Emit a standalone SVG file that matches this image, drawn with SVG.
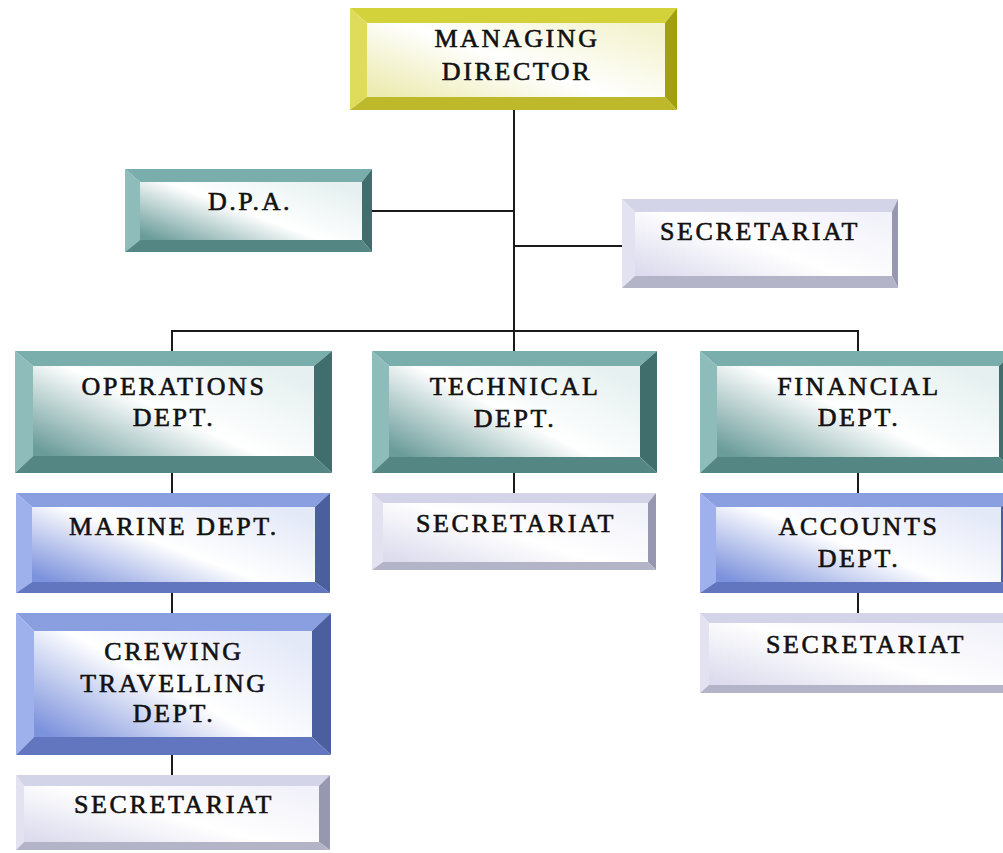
<svg xmlns="http://www.w3.org/2000/svg" width="1003" height="853" viewBox="0 0 1003 853">
  <defs>
    <linearGradient id="gTeal" x1="0" y1="0.9" x2="1" y2="0.2">
      <stop offset="0" stop-color="#6a9c9a"/>
      <stop offset="0.5" stop-color="#ffffff"/>
      <stop offset="1" stop-color="#e6f0f0"/>
    </linearGradient>
    <linearGradient id="gBlue" x1="0" y1="0.9" x2="1" y2="0.2">
      <stop offset="0" stop-color="#7c92dc"/>
      <stop offset="0.5" stop-color="#ffffff"/>
      <stop offset="1" stop-color="#e4e9f8"/>
    </linearGradient>
    <linearGradient id="gLav" x1="0" y1="0.9" x2="1" y2="0.2">
      <stop offset="0" stop-color="#dcdcee"/>
      <stop offset="0.5" stop-color="#ffffff"/>
      <stop offset="1" stop-color="#f2f2fa"/>
    </linearGradient>
    <linearGradient id="gYel" x1="0" y1="0.9" x2="1" y2="0.2">
      <stop offset="0" stop-color="#ecebb0"/>
      <stop offset="0.5" stop-color="#ffffff"/>
      <stop offset="1" stop-color="#f4f3d0"/>
    </linearGradient>
  </defs>
  <style>
    .teal .t { fill: #7aaead; } .teal .l { fill: #8dbcba; } .teal .r { fill: #3f6e6c; } .teal .b { fill: #548684; } .teal .f { fill: url(#gTeal); }
    .blue .t { fill: #8a9fe0; } .blue .l { fill: #9fb1ec; } .blue .r { fill: #4b5f9e; } .blue .b { fill: #6275bf; } .blue .f { fill: url(#gBlue); }
    .lav .t { fill: #d4d4e8; } .lav .l { fill: #e2e2f0; } .lav .r { fill: #9797b0; } .lav .b { fill: #b4b4c8; } .lav .f { fill: url(#gLav); }
    .yel .t { fill: #d4d23a; } .yel .l { fill: #dedc5a; } .yel .r { fill: #a3a010; } .yel .b { fill: #bdb92a; } .yel .f { fill: url(#gYel); }
    text { font-family: "Liberation Serif", "Times New Roman", serif; font-size: 26px; letter-spacing: 2.6px; fill: #111; stroke: #111; stroke-width: 0.6; text-anchor: middle; }
    .conn line { stroke: #1a1a1a; stroke-width: 2; }
  </style>

  <rect width="1003" height="853" fill="#ffffff"/>

  <!-- connectors -->
  <g id="connectors" class="conn">
    <line x1="514" y1="110" x2="514" y2="351"/>
    <line x1="372" y1="211" x2="514" y2="211"/>
    <line x1="514" y1="246" x2="622" y2="246"/>
    <line x1="171" y1="331" x2="859" y2="331"/>
    <line x1="172" y1="331" x2="172" y2="351"/>
    <line x1="858" y1="331" x2="858" y2="351"/>
    <line x1="172" y1="473" x2="172" y2="493"/>
    <line x1="172" y1="593" x2="172" y2="613"/>
    <line x1="172" y1="755" x2="172" y2="775"/>
    <line x1="514" y1="473" x2="514" y2="493"/>
    <line x1="858" y1="473" x2="858" y2="493"/>
    <line x1="858" y1="593" x2="858" y2="613"/>
  </g>

  <!-- managing director -->
  <g id="managing-director" class="yel">
    <polygon class="t" points="350,8 677,8 665,23 367,23"/>
    <polygon class="l" points="350,8 367,23 367,97 350,110"/>
    <polygon class="r" points="677,8 677,110 665,97 665,23"/>
    <polygon class="b" points="350,110 367,97 665,97 677,110"/>
    <rect class="f" x="367" y="23" width="298" height="74"/>
    <text x="517" y="47">MANAGING</text>
    <text x="517" y="80">DIRECTOR</text>
  </g>

  <!-- D.P.A. -->
  <g id="dpa" class="teal">
    <polygon class="t" points="125,169 372,169 362,182 140,182"/>
    <polygon class="l" points="125,169 140,182 140,240 125,252"/>
    <polygon class="r" points="372,169 372,252 362,240 362,182"/>
    <polygon class="b" points="125,252 140,240 362,240 372,252"/>
    <rect class="f" x="140" y="182" width="222" height="58"/>
    <text x="250" y="210">D.P.A.</text>
  </g>

  <!-- secretariat under managing director -->
  <g id="secretariat-md" class="lav">
    <polygon class="t" points="622,199 898,199 892,212 635,212"/>
    <polygon class="l" points="622,199 635,212 635,276 622,288"/>
    <polygon class="r" points="898,199 898,288 892,276 892,212"/>
    <polygon class="b" points="622,288 635,276 892,276 898,288"/>
    <rect class="f" x="635" y="212" width="257" height="64"/>
    <text x="760" y="240">SECRETARIAT</text>
  </g>

  <!-- operations -->
  <g id="operations" class="teal">
    <polygon class="t" points="15,351 332,351 314,366 33,366"/>
    <polygon class="l" points="15,351 33,366 33,456 15,473"/>
    <polygon class="r" points="332,351 332,473 314,456 314,366"/>
    <polygon class="b" points="15,473 33,456 314,456 332,473"/>
    <rect class="f" x="33" y="366" width="281" height="90"/>
    <text x="174" y="395">OPERATIONS</text>
    <text x="174" y="426">DEPT.</text>
  </g>

  <!-- technical -->
  <g id="technical" class="teal">
    <polygon class="t" points="372,351 657,351 640,366 389,366"/>
    <polygon class="l" points="372,351 389,366 389,457 372,473"/>
    <polygon class="r" points="657,351 657,473 640,457 640,366"/>
    <polygon class="b" points="372,473 389,457 640,457 657,473"/>
    <rect class="f" x="389" y="366" width="251" height="91"/>
    <text x="515" y="395">TECHNICAL</text>
    <text x="515" y="427">DEPT.</text>
  </g>

  <!-- financial -->
  <g id="financial" class="teal">
    <polygon class="t" points="700,351 1016,351 999,366 717,366"/>
    <polygon class="l" points="700,351 717,366 717,457 700,473"/>
    <polygon class="r" points="1016,351 1016,473 999,457 999,366"/>
    <polygon class="b" points="700,473 717,457 999,457 1016,473"/>
    <rect class="f" x="717" y="366" width="282" height="91"/>
    <text x="859" y="395">FINANCIAL</text>
    <text x="859" y="426">DEPT.</text>
  </g>

  <!-- secretariat under technical -->
  <g id="secretariat-tech" class="lav">
    <polygon class="t" points="372,493 656,493 648,503 383,503"/>
    <polygon class="l" points="372,493 383,503 383,562 372,570"/>
    <polygon class="r" points="656,493 656,570 648,562 648,503"/>
    <polygon class="b" points="372,570 383,562 648,562 656,570"/>
    <rect class="f" x="383" y="503" width="265" height="59"/>
    <text x="516" y="532">SECRETARIAT</text>
  </g>

  <!-- marine -->
  <g id="marine" class="blue">
    <polygon class="t" points="16,493 330,493 315,507 32,507"/>
    <polygon class="l" points="16,493 32,507 32,582 16,593"/>
    <polygon class="r" points="330,493 330,593 315,582 315,507"/>
    <polygon class="b" points="16,593 32,582 315,582 330,593"/>
    <rect class="f" x="32" y="507" width="283" height="75"/>
    <text x="174" y="535">MARINE DEPT.</text>
  </g>

  <!-- accounts -->
  <g id="accounts" class="blue">
    <polygon class="t" points="700,493 1016,493 1001,507 716,507"/>
    <polygon class="l" points="700,493 716,507 716,582 700,593"/>
    <polygon class="r" points="1016,493 1016,593 1001,582 1001,507"/>
    <polygon class="b" points="700,593 716,582 1001,582 1016,593"/>
    <rect class="f" x="716" y="507" width="285" height="75"/>
    <text x="859" y="535">ACCOUNTS</text>
    <text x="859" y="567">DEPT.</text>
  </g>

  <!-- secretariat under accounts -->
  <g id="secretariat-fin" class="lav">
    <polygon class="t" points="700,613 1020,613 1012,623 709,623"/>
    <polygon class="l" points="700,613 709,623 709,685 700,693"/>
    <polygon class="r" points="1020,613 1020,693 1012,685 1012,623"/>
    <polygon class="b" points="700,693 709,685 1012,685 1020,693"/>
    <rect class="f" x="709" y="623" width="303" height="62"/>
    <text x="866" y="653">SECRETARIAT</text>
  </g>

  <!-- crewing travelling -->
  <g id="crewing" class="blue">
    <polygon class="t" points="16,613 331,613 312,631 34,631"/>
    <polygon class="l" points="16,613 34,631 34,737 16,755"/>
    <polygon class="r" points="331,613 331,755 312,737 312,631"/>
    <polygon class="b" points="16,755 34,737 312,737 331,755"/>
    <rect class="f" x="34" y="631" width="278" height="106"/>
    <text x="174" y="660">CREWING</text>
    <text x="174" y="692">TRAVELLING</text>
    <text x="174" y="722">DEPT.</text>
  </g>

  <!-- secretariat under crewing -->
  <g id="secretariat-crew" class="lav">
    <polygon class="t" points="16,775 330,775 319,786 24,786"/>
    <polygon class="l" points="16,775 24,786 24,842 16,850"/>
    <polygon class="r" points="330,775 330,850 319,842 319,786"/>
    <polygon class="b" points="16,850 24,842 319,842 330,850"/>
    <rect class="f" x="24" y="786" width="295" height="56"/>
    <text x="174" y="813">SECRETARIAT</text>
  </g>
</svg>
